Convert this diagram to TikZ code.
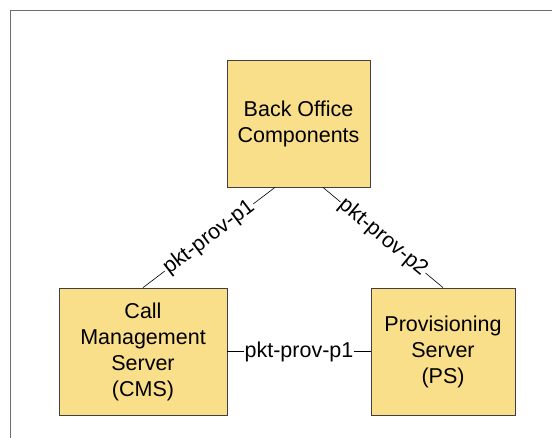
\documentclass[tikz,border=0pt]{standalone}
\usepackage{fontspec}
\setmainfont{Liberation Sans}
\usetikzlibrary{positioning}

\definecolor{boxfill}{RGB}{250,223,138}
\definecolor{boxline}{RGB}{64,64,64}
\definecolor{frameline}{RGB}{110,110,110}

\begin{document}
\begin{tikzpicture}[x=1pt, y=-1pt, semithick,
        unit/.style={draw=boxline, fill=boxfill, line width=0.8pt, inner sep=0pt,
            minimum height=127pt, align=center,
            font=\fontsize{21.5}{26}\selectfont},
        link/.style={draw=black, line width=0.6pt},
        linklabel/.style={fill=white, inner sep=1pt,
            font=\fontsize{21.5}{26}\selectfont}]
            \useasboundingbox (0, 0) rectangle (552, 437);
            \draw[frameline, line width=1pt] (560, 10) -- (10.5, 10) -- (10.5, 445);

            \node[unit, minimum width=143pt] (backoffice) at (298.5, 123.5) {Back Office\\Components};
            \node[unit, minimum width=168pt] (cms) at (143, 351.5) {Call\\Management\\Server\\(CMS)};
            \node[unit, minimum width=144pt] (ps) at (443, 351.5) {Provisioning\\Server\\(PS)};

            \draw[link] ([xshift=-23.5pt]backoffice.south) -- (cms.north)
                node[linklabel, midway, sloped] {pkt-prov-p1};
            \draw[link] ([xshift=24.5pt]backoffice.south) -- (ps.north)
                node[linklabel, midway, sloped] {pkt-prov-p2};
            \draw[link] (cms.east) -- (ps.west)
                node[linklabel, midway] {pkt-prov-p1};
        \end{tikzpicture}
\end{document}
